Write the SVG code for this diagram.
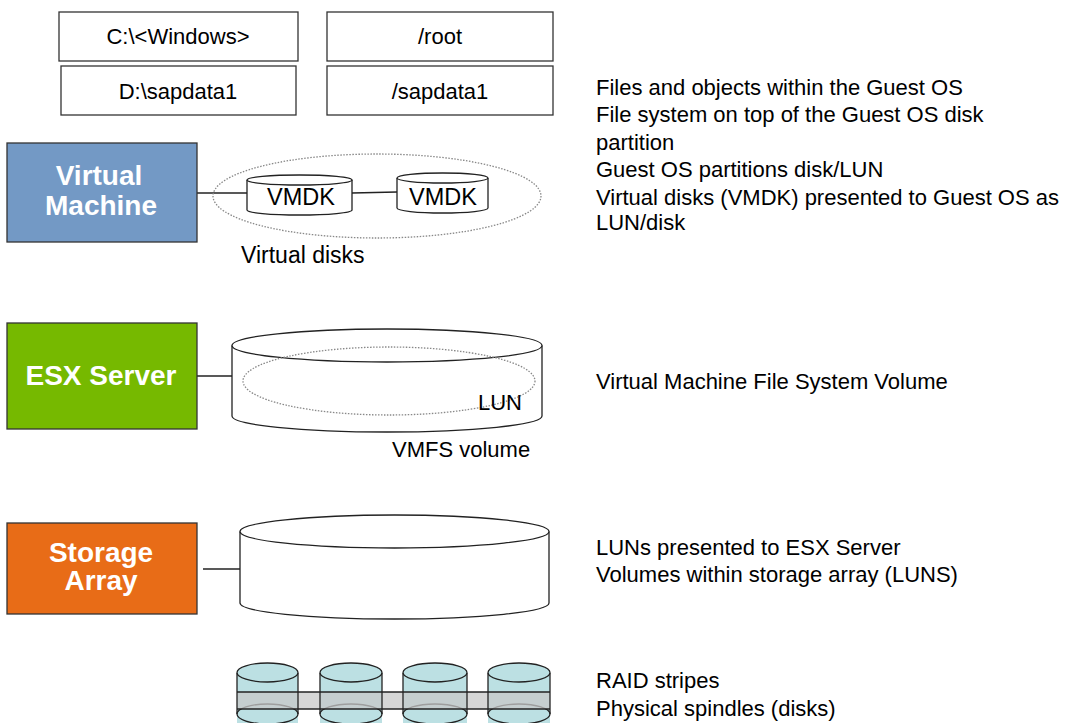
<svg xmlns="http://www.w3.org/2000/svg" width="1073" height="723" viewBox="0 0 1073 723">
<style>
.t{font-family:"Liberation Sans",Arial,sans-serif;font-size:22px;fill:#000}
.b{font-family:"Liberation Sans",Arial,sans-serif;font-size:28px;font-weight:bold;fill:#fff;text-anchor:middle}
.box{fill:#fff;stroke:#333;stroke-width:1.3}
.ln{stroke:#222;stroke-width:1.3;fill:none}
.cyl{fill:#fff;stroke:#222;stroke-width:1.3}
.dot{fill:none;stroke:#888;stroke-width:1.3;stroke-dasharray:1.5 1.5}
.disk{fill:#bce0e3;stroke:#222;stroke-width:1.3}
.mid{text-anchor:middle}
</style>
<rect width="1073" height="723" fill="#fff"/>
<g id="fs-windows"><rect class="box" x="59" y="12" width="239" height="49"/><text class="t mid" x="178" y="44">C:\&lt;Windows&gt;</text></g>
<g id="fs-sapdata-d"><rect class="box" x="61" y="66" width="235" height="49"/><text class="t mid" x="178" y="99">D:\sapdata1</text></g>
<g id="fs-root"><rect class="box" x="327" y="12" width="226" height="49"/><text class="t mid" x="440" y="44">/root</text></g>
<g id="fs-sapdata"><rect class="box" x="327" y="66" width="226" height="49"/><text class="t mid" x="440" y="99">/sapdata1</text></g>

<g id="connectors">
<line class="ln" x1="197" y1="193" x2="247" y2="193"/>
<line class="ln" x1="352" y1="193" x2="397" y2="192"/>
<line class="ln" x1="197" y1="376" x2="237" y2="376"/>
<line class="ln" x1="203" y1="569" x2="243" y2="569"/>
</g>

<g id="virtual-machine"><rect x="7" y="143" width="190" height="99" fill="#7399c5" stroke="#333" stroke-width="1.3"/><text class="b" x="99" y="185">Virtual</text><text class="b" x="101" y="215">Machine</text></g>
<g id="virtual-disks">
<ellipse class="dot" cx="377" cy="196" rx="164" ry="42"/>
<g id="vmdk1"><path class="cyl" d="M247,180 V210 A52.5,5 0 0 0 352,210 V180"/><ellipse class="cyl" cx="299.5" cy="180" rx="52.5" ry="5"/><text class="t mid" x="301" y="205" style="font-size:23.5px">VMDK</text></g>
<g id="vmdk2"><path class="cyl" d="M397,178 V208 A45.5,5 0 0 0 488,208 V178"/><ellipse class="cyl" cx="442.5" cy="178" rx="45.5" ry="5"/><text class="t mid" x="443" y="205" style="font-size:23.5px">VMDK</text></g>
<text class="t" x="241" y="263" style="font-size:23px">Virtual disks</text>
</g>

<g id="esx-server"><rect x="7" y="323" width="190" height="106" fill="#76b900" stroke="#333" stroke-width="1.3"/><text class="b" x="101" y="385">ESX Server</text></g>
<g id="vmfs-volume">
<path class="cyl" d="M232,345.5 V416 A155,16 0 0 0 542,416 V345.5"/>
<ellipse class="cyl" cx="387" cy="345.5" rx="155" ry="16.5"/>
<ellipse class="dot" cx="389" cy="381" rx="146" ry="34"/>
<text class="t" x="478" y="410">LUN</text>
<text class="t" x="392" y="457">VMFS volume</text>
</g>

<g id="storage-array"><rect x="7" y="523" width="190" height="91" fill="#e86c17" stroke="#333" stroke-width="1.3"/><text class="b" x="101" y="562">Storage</text><text class="b" x="101" y="590">Array</text></g>
<g id="storage-lun">
<path class="cyl" d="M240,531.5 V603 A154.5,16 0 0 0 549,603 V531.5"/>
<ellipse class="cyl" cx="394.5" cy="531.5" rx="154.5" ry="16.5"/>
</g>

<g id="spindles">
<rect x="237" y="673" width="61" height="60" fill="#bce0e3"/>
<rect x="320" y="673" width="62" height="60" fill="#bce0e3"/>
<rect x="403" y="673" width="64" height="60" fill="#bce0e3"/>
<rect x="488" y="673" width="62" height="60" fill="#bce0e3"/>
<ellipse cx="267.5" cy="714" rx="30.5" ry="10" fill="#bce0e3" stroke="#222" stroke-width="1.3"/>
<ellipse cx="351" cy="714" rx="31" ry="10" fill="#bce0e3" stroke="#222" stroke-width="1.3"/>
<ellipse cx="435" cy="714" rx="32" ry="10" fill="#bce0e3" stroke="#222" stroke-width="1.3"/>
<ellipse cx="519" cy="714" rx="31" ry="10" fill="#bce0e3" stroke="#222" stroke-width="1.3"/>
<rect x="237" y="692" width="313" height="17" fill="#c8c8c8" fill-opacity="0.75"/>
<g class="ln">
<line x1="237" y1="673" x2="237" y2="714"/><line x1="298" y1="673" x2="298" y2="714"/>
<line x1="320" y1="673" x2="320" y2="714"/><line x1="382" y1="673" x2="382" y2="714"/>
<line x1="403" y1="673" x2="403" y2="714"/><line x1="467" y1="673" x2="467" y2="714"/>
<line x1="488" y1="673" x2="488" y2="714"/><line x1="550" y1="673" x2="550" y2="714"/>
<line x1="237" y1="692" x2="550" y2="692"/><line x1="237" y1="709" x2="550" y2="709"/>
</g>
<ellipse class="disk" cx="267.5" cy="672.5" rx="30.5" ry="9.5"/>
<ellipse class="disk" cx="351" cy="672.5" rx="31" ry="9.5"/>
<ellipse class="disk" cx="435" cy="672.5" rx="32" ry="9.5"/>
<ellipse class="disk" cx="519" cy="672.5" rx="31" ry="9.5"/>
</g>

<g id="descriptions">
<text class="t" x="596" y="95">Files and objects within the Guest OS</text>
<text class="t" x="596" y="122">File system on top of the Guest OS disk</text>
<text class="t" x="596" y="150">partition</text>
<text class="t" x="596" y="177">Guest OS partitions disk/LUN</text>
<text class="t" x="596" y="205">Virtual disks (VMDK) presented to Guest OS as</text>
<text class="t" x="596" y="230">LUN/disk</text>
<text class="t" x="596" y="389">Virtual Machine File System Volume</text>
<text class="t" x="596" y="555">LUNs presented to ESX Server</text>
<text class="t" x="596" y="582">Volumes within storage array (LUNS)</text>
<text class="t" x="596" y="688">RAID stripes</text>
<text class="t" x="596" y="716">Physical spindles (disks)</text>
</g>
</svg>
